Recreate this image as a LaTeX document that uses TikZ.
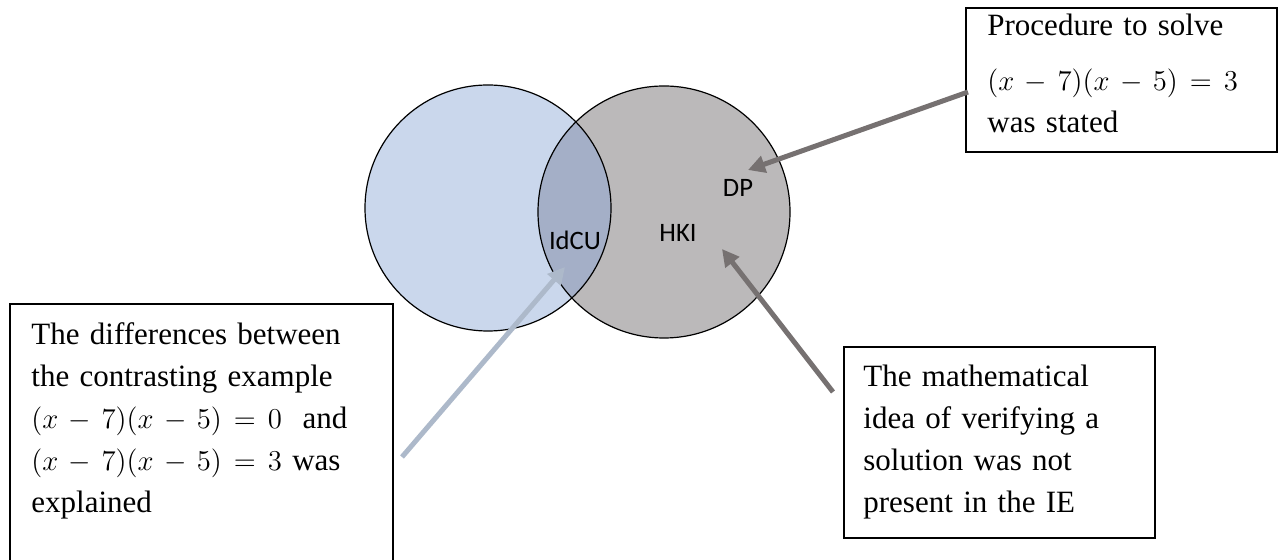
\documentclass[tikz,border=0pt]{standalone}
\usepackage{fontspec}
\setmainfont{Liberation Serif}
\newfontfamily\lblfont{Carlito}
\usetikzlibrary{arrows.meta}
\definecolor{setA}{HTML}{CAD7EC}
\definecolor{setB}{HTML}{BBB9BA}
\definecolor{setAB}{HTML}{A4AFC7}
\definecolor{ptrdark}{HTML}{767171}
\definecolor{ptrlight}{HTML}{ADB9CA}
% slightly wider operator spacing in the equations
\medmuskip=6.5mu plus 2mu minus 4mu
\thickmuskip=7.5mu plus 5mu
\begin{document}
\begin{tikzpicture}[x=0.5pt,y=-0.5pt,
  notebox/.style={draw=black, line width=0.75pt, inner sep=0pt, rectangle},
  notetext/.style={anchor=base west, inner sep=0pt, align=left, text width=#1,
                   font=\fontsize{15.5}{21}\selectfont},
  setlabel/.style={anchor=base, inner sep=0pt, font=\lblfont\fontsize{13.3}{16}\selectfont},
  pointer/.style={line width=2.5pt, -{Triangle[length=8.5pt,width=8.5pt]}},
]
\useasboundingbox (0,0) rectangle (1279,560);
\clip (0,0) rectangle (1279,560);

% the two sets and their intersection
\fill[setB] (664,212) circle[radius=63pt];
\fill[setA] (488,208) circle[radius=61.5pt];
\begin{scope}
  \clip (488,208) circle[radius=61.5pt];
  \fill[setAB] (664,212) circle[radius=63pt];
\end{scope}
\draw[line width=0.6pt] (488,208) circle[radius=61.5pt] (664,212) circle[radius=63pt];

% region labels
\node[setlabel] (idcu) at (575,250) {IdCU};
\node[setlabel] (hki)  at (678,242) {HKI};
\node[setlabel] (dp)   at (738,197) {DP};

% note boxes
\node[notebox, minimum width=155.5pt, minimum height=72pt]   (box1) at (1121.5,80)  {};
\node[notebox, minimum width=191.5pt, minimum height=140pt]  (box2) at (201.5,444)  {};
\node[notebox, minimum width=155.5pt, minimum height=95.5pt] (box3) at (999.5,442.5) {};

\node[notetext=150pt] (txt1) at (987,36)
  {Procedure to solve\\[6.5pt] $(x-7)(x-5)=3$\\ was stated};
\node[notetext=185pt] (txt2) at (31,345)
  {The differences between\\ the contrasting example\\ $(x-7)(x-5)=0$\ \ and\\ $(x-7)(x-5)=3$ was\\ explained};
\node[notetext=170pt] (txt3) at (863,387)
  {The mathematical\\ idea of verifying a\\ solution was not\\ present in the IE};

% pointers from the notes into the diagram
\coordinate (s1) at (968,92);  \coordinate (e1) at (748,170);
\coordinate (s2) at (402,457); \coordinate (e2) at (565,267);
\coordinate (s3) at (833,392); \coordinate (e3) at (722,249);
\draw[pointer, ptrdark]  (s1) -- (e1);
\draw[pointer, ptrlight] (s2) -- (e2);
\draw[pointer, ptrdark]  (s3) -- (e3);
\end{tikzpicture}
\end{document}
